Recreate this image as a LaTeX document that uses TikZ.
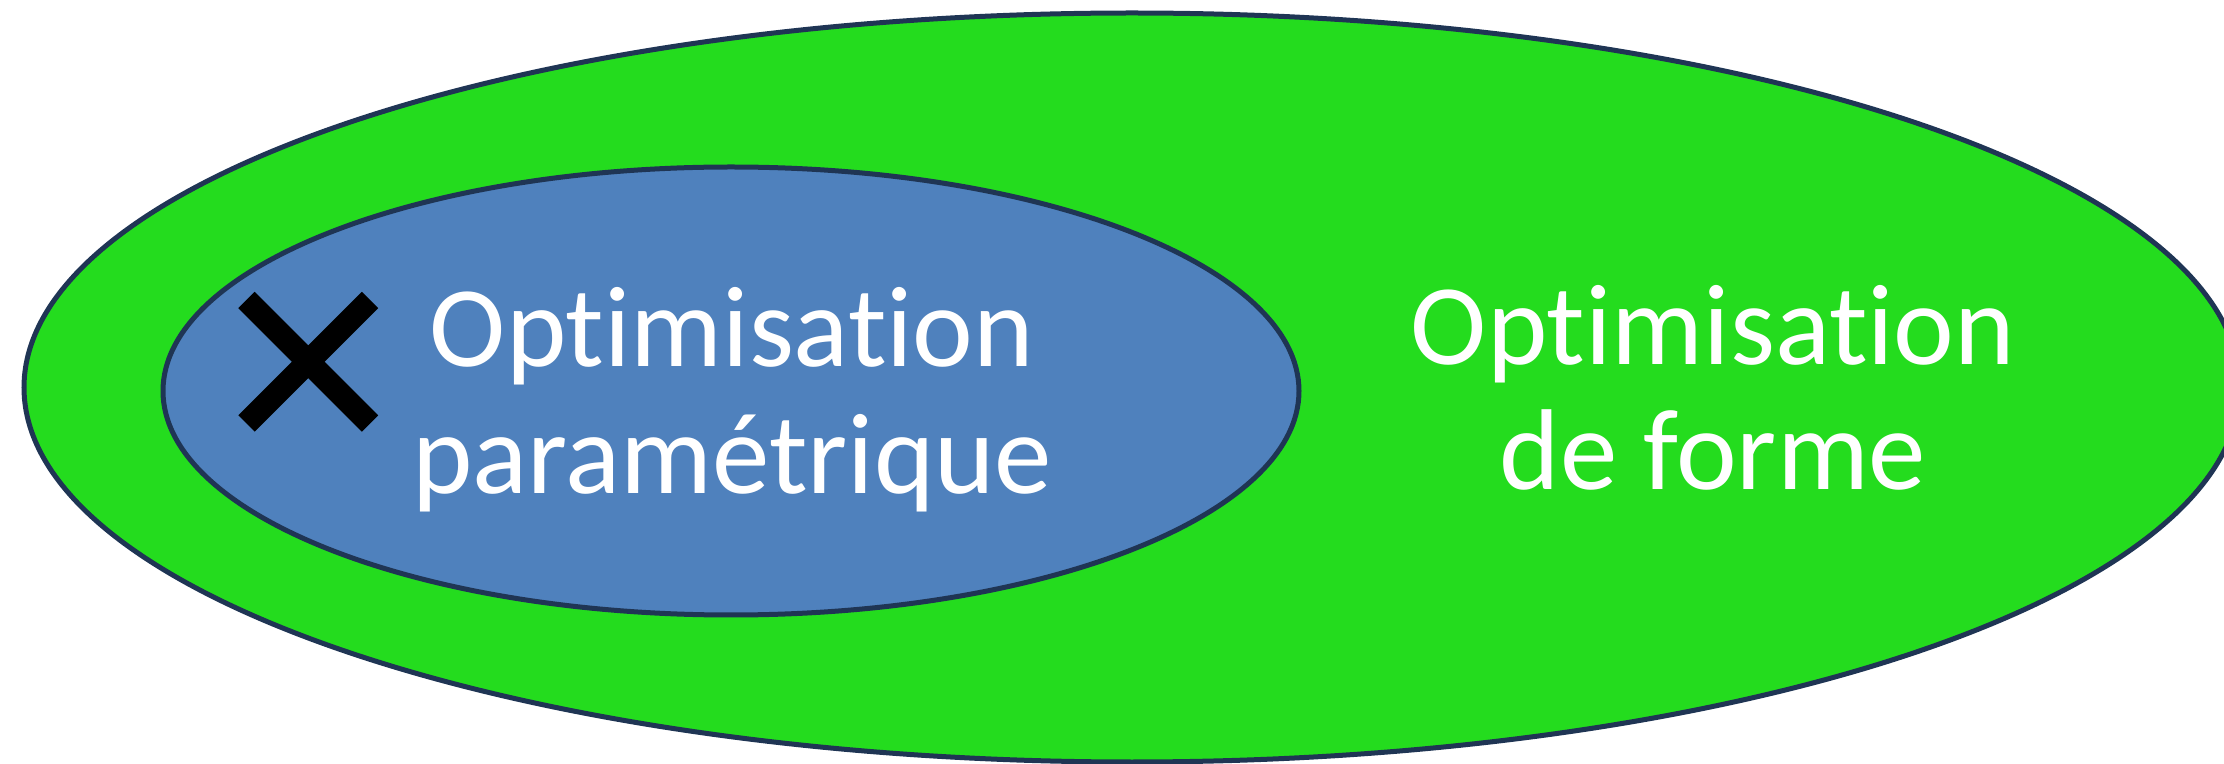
\documentclass[tikz,border=0pt]{standalone}
\usepackage{fontspec}
\setmainfont[Ligatures={NoCommon}]{Carlito}
\definecolor{rim}{RGB}{31,53,84}
\definecolor{shapegreen}{RGB}{36,220,30}
\definecolor{paramblue}{RGB}{79,129,189}
\begin{document}
\begin{tikzpicture}[x=0.5pt,y=-0.5pt,
  setshape/.style={draw=rim,line width=2.5pt},
  label/.style={text=white,inner sep=0pt,anchor=base,
    font=\fontsize{57.5pt}{64pt}\selectfont},
  crossmark/.style={line width=11.5pt,line cap=butt,black}]
\useasboundingbox (0,0) rectangle (2224,764);
% outer set: shape optimisation
\path[setshape,fill=shapegreen] (1132,387.5) ellipse [x radius=1108,y radius=374.5];
% inner set: parametric optimisation
\path[setshape,fill=paramblue] (731,391) ellipse [x radius=568,y radius=224];
% labels
\node[label] (p1) at (732,366.5) {Optimisation};
\node[label] (p2) at (732,493.5) {paramétrique};
\node[label] (f1) at (1713,365) {Optimisation};
\node[label] (f2) at (1713,490) {de forme};
% cross mark
\coordinate (c1) at (246.5,300);
\coordinate (c2) at (370,423.5);
\coordinate (c3) at (370,300);
\coordinate (c4) at (246.5,423.5);
\draw[crossmark] (c1) -- (c2);
\draw[crossmark] (c3) -- (c4);
\end{tikzpicture}
\end{document}
